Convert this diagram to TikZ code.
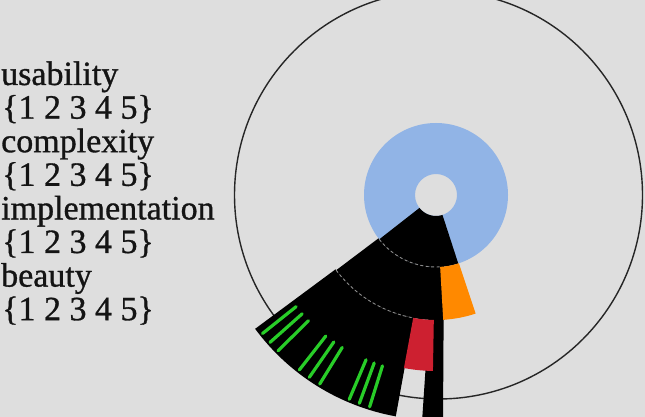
\documentclass[tikz,border=0pt]{standalone}
\usepackage{fontspec}
\setmainfont{Liberation Serif}
\newfontfamily\lblfont[FakeBold=0.9]{Liberation Serif}
\usetikzlibrary{calc}
\definecolor{bgc}{RGB}{222,222,222}
\definecolor{ringblue}{RGB}{145,180,230}
\definecolor{orng}{RGB}{255,137,0}
\definecolor{redc}{RGB}{205,32,48}
\definecolor{grn}{RGB}{40,205,40}
\definecolor{txt}{RGB}{20,20,20}
\tikzset{
  lbl/.style={anchor=base west, inner sep=0pt, text=txt, font=\lblfont\fontsize{34}{34}\selectfont},
  outline/.style={draw=black!85, line width=1.4pt},
  sep/.style={draw=gray!90, line width=0.9pt, dash pattern=on 3pt off 2.5pt},
  gline/.style={draw=grn, line width=3.2pt, line cap=round},
}
\newcommand\mysector[5]{%
  \fill[#1] ($(C)+(#2:#4)$) arc[start angle=#2, end angle=#3, radius=#4]
    -- ($(C)+(#3:#5)$) arc[start angle=#3, end angle=#2, radius=#5] -- cycle;}
\begin{document}
\begin{tikzpicture}[x=1pt,y=1pt]
\fill[bgc] (0,0) rectangle (645,417);
\useasboundingbox (0,0) rectangle (645,417);
\clip (0,0) rectangle (645,417);
\coordinate (C) at (436,222);
\coordinate (O) at (438.5,222);
% labels
\node[lbl] (t1) at (1,332) {usability};
\node[lbl] (t2) at (2,298.4) {\{1 2 3 4 5\}};
\node[lbl] (t3) at (1,264.8) {complexity};
\node[lbl] (t4) at (2,231.2) {\{1 2 3 4 5\}};
\node[lbl] (t5) at (1,197.6) {implementation};
\node[lbl] (t6) at (2,164) {\{1 2 3 4 5\}};
\node[lbl] (t7) at (1,130.4) {beauty};
\node[lbl] (t8) at (2,96.8) {\{1 2 3 4 5\}};
% outer circle
\draw[outline] (O) circle[radius=204];
% blue ring
\fill[ringblue, even odd rule] (C) circle[radius=72] (C) circle[radius=21];
% black sectors
\mysector{black}{-142}{-72}{21}{72}
\mysector{black}{-143}{-86}{72}{125}
\mysector{black}{-143.5}{-100.3}{125}{225}
% black strip
\fill[black] (433,160) -- (444,160) -- (443,-5) -- (422,-5) -- cycle;
% red and orange
\mysector{redc}{-100.5}{-91}{125}{176}
\mysector{orng}{-86.7}{-71.5}{72}{125}
% separators
\draw[sep] ($(C)+(-142:72)$) arc[start angle=-142, end angle=-86.7, radius=72];
\draw[sep] ($(C)+(-143:125)$) arc[start angle=-143, end angle=-100.5, radius=125];
% green lines
\foreach \a in {-141.4,-138.4,-135.4,-128,-124.8,-121.6,-113,-110.2,-107.4}{
  \draw[gline] ($(C)+(\a:179)$) -- ($(C)+(\a:222)$);
}
\end{tikzpicture}
\end{document}
